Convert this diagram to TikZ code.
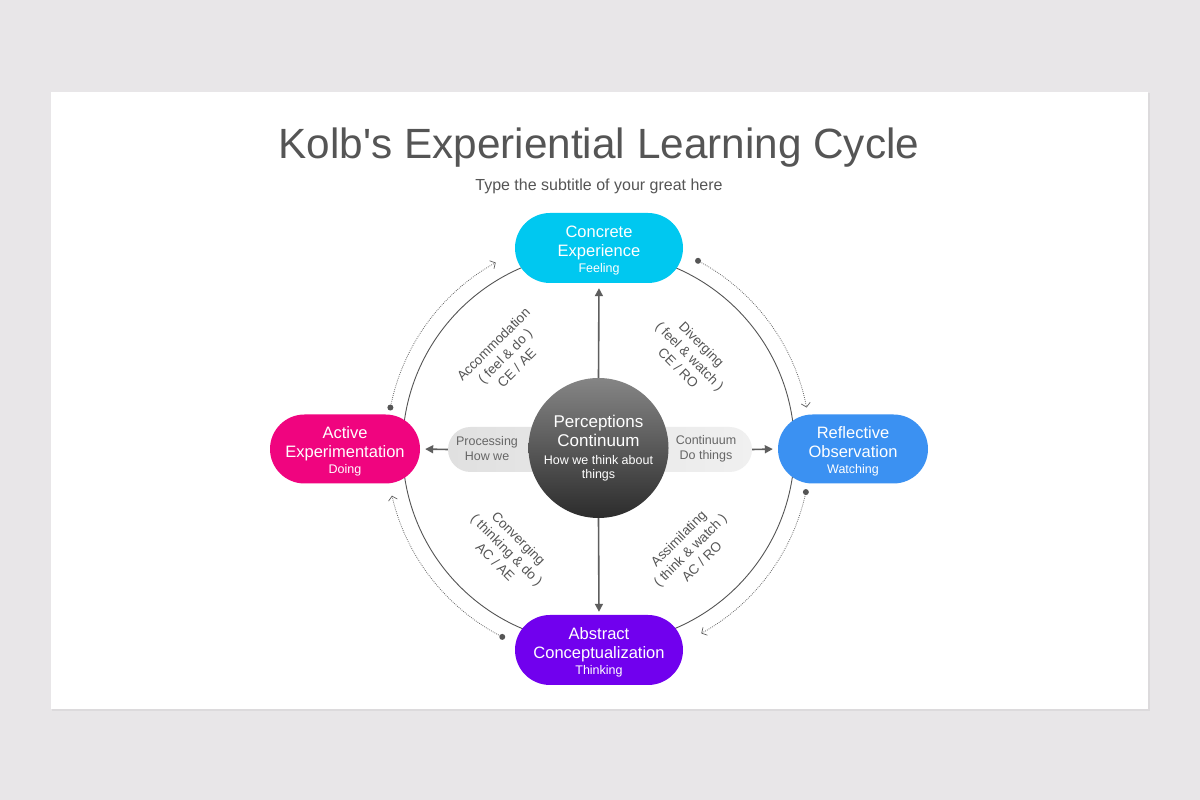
\documentclass[tikz,border=0pt]{standalone}
\usepackage{fontspec}
\setmainfont{Liberation Sans}
\newfontfamily\titlefont{Liberation Sans}
\usetikzlibrary{shapes.misc,arrows.meta,calc}
\definecolor{bgc}{HTML}{E8E6E8}
\definecolor{shadowc}{HTML}{DCDADC}
\definecolor{titlec}{HTML}{555555}
\definecolor{cec}{HTML}{00C8F0}
\definecolor{aec}{HTML}{F0047F}
\definecolor{roc}{HTML}{3B91F2}
\definecolor{acc}{HTML}{7100EE}
\definecolor{linec}{HTML}{555555}
\definecolor{arrc}{HTML}{5E5E5E}
\definecolor{dotc}{HTML}{5E5E5E}
\definecolor{bandL}{HTML}{E0E0E0}
\definecolor{bandR}{HTML}{F0F0F0}
\definecolor{bandtxt}{HTML}{666666}
\definecolor{circtop}{HTML}{858585}
\definecolor{circbot}{HTML}{2C2C2C}
\tikzset{
  pill/.style={rounded rectangle, inner sep=0pt, draw=none, text=white, align=center,
    font=\fontsize{16.5}{19}\selectfont},
  arr/.style={draw=arrc, line width=1.6pt, -{Triangle[length=8pt,width=8pt]}},
  dotarc/.style={draw=dotc, line width=0.75pt, dash pattern=on 0.8pt off 1.2pt,
    -{Straight Barb[length=4pt,width=9pt,line width=0.7pt]}},
  diag/.style={align=center, text=titlec, font=\fontsize{13.5}{16.5}\selectfont, inner sep=0pt},
  bandtext/.style={align=center, text=bandtxt, font=\fontsize{12.5}{15}\selectfont, inner sep=0pt},
}
\newcommand{\subline}[1]{\\[-3pt]{\fontsize{12.5}{15}\selectfont #1}}
\newcommand{\topline}[1]{\rule{0pt}{17.5pt}#1}
\begin{document}
\begin{tikzpicture}[x=1pt,y=1pt]
\useasboundingbox (0,0) rectangle (1200,800);
\fill[bgc] (0,0) rectangle (1200,800);
% slide
\fill[shadowc] (52,89) rectangle (1150,707);
\fill[white] (51,91) rectangle (1148,708);

% title
\node[anchor=base, text=titlec, font=\titlefont\fontsize{42.3}{48}\selectfont, inner sep=0pt] (title) at (599,641) {Kolb\textquotesingle s Experiential Learning Cycle};
\node[anchor=base, text=titlec, font=\fontsize{16}{19}\selectfont, inner sep=0pt] (subtitle) at (599,609) {Type the subtitle of your great here};

\coordinate (O) at (598.5,352);
% big cycle circle
\draw[linec, line width=0.9pt] (O) circle[radius=196];

% dotted arcs
\coordinate (d1) at ([shift={(62:212)}]O);
\coordinate (d2) at ([shift={(-12:212)}]O);
\coordinate (d3) at ([shift={(243:212)}]O);
\coordinate (d4) at ([shift={(169:212)}]O);
\draw[dotarc] (d1) arc[start angle=62, end angle=11, radius=212];
\draw[dotarc] (d2) arc[start angle=-12, end angle=-61, radius=212];
\draw[dotarc] (d3) arc[start angle=243, end angle=193, radius=212];
\draw[dotarc] (d4) arc[start angle=169, end angle=119, radius=212];
\foreach \d in {d1,d2,d3,d4} \fill[linec] (\d) circle[radius=3];

% band behind centre
\node[rounded rectangle, inner sep=0pt, minimum width=304pt, minimum height=45pt,
  left color=bandL, right color=bandR, draw=none] (band) at (600,350.5) {};
\node[bandtext] (proc) at (487,351) {Processing\\How we};
\node[bandtext] (cont) at (706,351) {Continuum\\Do things};

% pills
\node[pill, fill=cec, minimum width=168pt, minimum height=70pt] (CE) at (599,552)
  {\topline{Concrete}\\Experience\subline{Feeling}};
\node[pill, fill=aec, minimum width=150pt, minimum height=69pt] (AE) at (345,351)
  {\topline{Active}\\Experimentation\subline{Doing}};
\node[pill, fill=roc, minimum width=150pt, minimum height=69pt] (RO) at (853,351)
  {\topline{Reflective}\\Observation\subline{Watching}};
\node[pill, fill=acc, minimum width=168pt, minimum height=70pt] (AC) at (599,150)
  {\topline{Abstract}\\Conceptualization\subline{Thinking}};

% centre circle
\node[circle, minimum size=140pt, inner sep=0pt, top color=circtop, bottom color=circbot,
  draw=none, text=white, align=center, font=\fontsize{17}{19}\selectfont] (P) at (O)
  {Perceptions\\Continuum\\[-1pt]{\fontsize{12.5}{14}\selectfont How we think about}\\[-5pt]{\fontsize{12.5}{14}\selectfont things}};

% arrows
\draw[arr, shorten >=5pt] (P.north) -- (CE.south);
\draw[arr, shorten >=3pt] (P.south) -- (AC.north);
\draw[arr, shorten >=5pt] (band.west) -- (AE.east);
\draw[arr, shorten >=5pt] (band.east) -- (RO.west);

% diagonal labels
\node[diag, rotate=45] (accl) at (505,444) {Accommodation\\( feel \& do )\\CE / AE};
\node[diag, rotate=-45] (divl) at (690,444) {Diverging\\( feel \& watch )\\CE / RO};
\node[diag, rotate=-45] (conl) at (507,250) {Converging\\( thinking \& do )\\AC / AE};
\node[diag, rotate=45] (assl) at (690,250) {Assimilating\\( think \& watch )\\AC / RO};
\end{tikzpicture}
\end{document}
